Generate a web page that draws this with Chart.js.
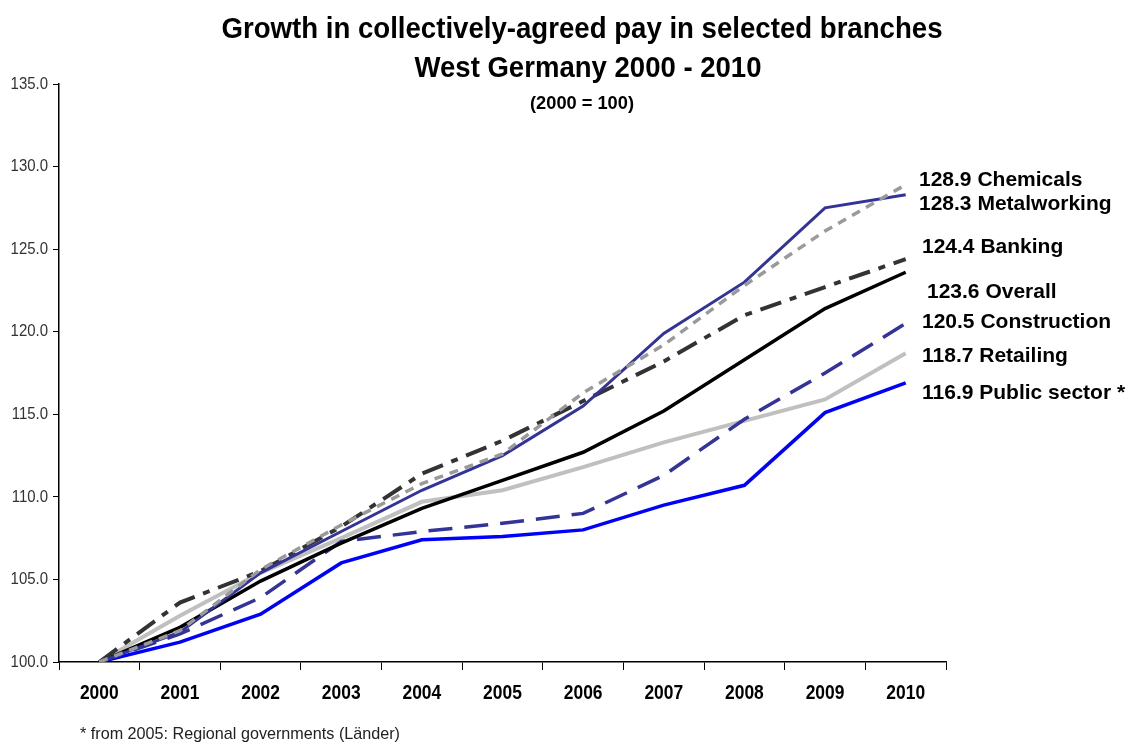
<!DOCTYPE html>
<html>
<head>
<meta charset="utf-8">
<script src="https://cdn.jsdelivr.net/npm/chart.js@4/dist/chart.umd.min.js"></script>
<style>
  html, body { margin:0; padding:0; background:#fff; }
  #wrap { width:1136px; height:744px; }
</style>
</head>
<body>
<div id="wrap"><canvas id="chart" width="1136" height="744"></canvas></div>
<script>
let years = ["2000","2001","2002","2003","2004","2005","2006","2007","2008","2009","2010"];
let yTicks = [100, 105, 110, 115, 120, 125, 130, 135];

let chemicals    = [100, 101.9, 105.6, 108.3, 110.8, 112.6, 116.3, 119.2, 122.8, 126.1, 128.9];
let metalworking = [100, 101.8, 105.4, 107.9, 110.4, 112.5, 115.5, 119.9, 123.0, 127.5, 128.3];
let banking      = [100, 103.6, 105.5, 108.2, 111.4, 113.4, 115.8, 118.2, 121.0, 122.7, 124.4];
let overall      = [100, 102.1, 104.9, 107.2, 109.3, 111.0, 112.7, 115.2, 118.3, 121.4, 123.6];
let construction = [100, 101.7, 103.9, 107.3, 107.9, 108.4, 109.0, 111.3, 114.7, 117.5, 120.5];
let retailing    = [100, 102.8, 105.4, 107.5, 109.7, 110.4, 111.8, 113.3, 114.6, 115.9, 118.7];
let publicSector = [100, 101.2, 102.9, 106.0, 107.4, 107.6, 108.0, 109.5, 110.7, 115.1, 116.9];

let seriesNames = ["Chemicals","Metalworking","Banking","Overall","Construction","Retailing","Public sector *"];
let seriesData  = [chemicals, metalworking, banking, overall, construction, retailing, publicSector];

let font = "'Liberation Sans', Arial, sans-serif";

// line styles (same order as seriesNames)
let styles = [
  {color:"#9a9a9a", width:3.5, dash:[9,7]},
  {color:"#333399", width:3,   dash:[]},
  {color:"#333333", width:4,   dash:[22,9,7,9]},
  {color:"#000000", width:3.5, dash:[]},
  {color:"#333399", width:3.5, dash:[24,12]},
  {color:"#c0c0c0", width:4,   dash:[]},
  {color:"#0000ff", width:3.5, dash:[]}
];

// text at the right of the lines: y in axis units, x offset from plot edge
let labelPos = [
  {v:129.2, dx:-27}, {v:127.7, dx:-27}, {v:125.1, dx:-24},
  {v:122.4, dx:-19}, {v:120.6, dx:-24}, {v:118.5, dx:-24}, {v:116.3, dx:-24}
];

// text squeezed sideways like the narrow font of the original
function squeezed(ctx, text, x, y, sx, align){
  ctx.save();
  ctx.translate(x, y);
  ctx.scale(sx, 1);
  ctx.textAlign = align;
  ctx.fillText(text, 0, 0);
  ctx.restore();
}

function fitText(ctx, text, x, y, w, f, align){
  ctx.save();
  ctx.font = f;
  let m = ctx.measureText(text).width;
  ctx.textBaseline = "alphabetic";
  squeezed(ctx, text, x, y, w/m, align||"center");
  ctx.restore();
}

let textPlugin = {
  id:"texts",
  afterDraw(chart){
    let ctx = chart.ctx;
    let area = chart.chartArea;
    let x = chart.scales.x, y = chart.scales.y;
    ctx.save();
    ctx.fillStyle = "#000";
    fitText(ctx, "Growth in collectively-agreed pay in selected branches", 582, 38, 721, "bold 29px " + font);
    fitText(ctx, "West Germany 2000 - 2010", 588, 77, 347, "bold 29px " + font);
    fitText(ctx, "(2000 = 100)", 582, 109, 104, "bold 19px " + font);

    // axis labels
    ctx.font = "bold 21px " + font;
    ctx.textBaseline = "middle";
    years.forEach((yr,i)=>squeezed(ctx, yr, x.getPixelForValue(i), 693, 0.83, "center"));
    ctx.fillStyle = "#333";
    ctx.font = "17px " + font;
    yTicks.forEach(v=>squeezed(ctx, v.toFixed(1), 48, y.getPixelForValue(v), 0.88, "right"));

    // series labels
    ctx.fillStyle = "#000";
    ctx.font = "bold 21px " + font;
    ctx.textAlign = "left";
    seriesNames.forEach((n,i)=>{
      let d = seriesData[i];
      let txt = d[d.length-1].toFixed(1) + " " + n;
      ctx.fillText(txt, area.right + labelPos[i].dx, y.getPixelForValue(labelPos[i].v));
    });

    ctx.fillStyle = "#222";
    fitText(ctx, "* from 2005: Regional governments (Länder)", 80, 739, 320, "17px " + font, "left");
    ctx.restore();
  }
};

let datasets = seriesNames.map((n,i)=>({
  label:n,
  data:seriesData[i],
  borderColor:styles[i].color,
  borderWidth:styles[i].width,
  borderDash:styles[i].dash,
  pointRadius:0,
  tension:0,
  fill:false
}));

new Chart(document.getElementById("chart"), {
  type:"line",
  data:{labels:years, datasets:datasets},
  plugins:[textPlugin],
  options:{
    responsive:false,
    animation:false,
    devicePixelRatio:1,
    layout:{padding:{top:84, right:190, left:0, bottom:0}},
    plugins:{legend:{display:false}, tooltip:{enabled:false}, title:{display:false}},
    scales:{
      x:{
        offset:true,
        grid:{offset:true, drawOnChartArea:false, drawTicks:true, tickLength:8, color:"#000", lineWidth:1},
        border:{display:true, color:"#000", width:1.5},
        ticks:{display:false},
        afterFit(s){ s.height = 82; }
      },
      y:{
        min:100, max:135,
        afterBuildTicks(s){ s.ticks = yTicks.map(v=>({value:v})); },
        grid:{drawOnChartArea:false, drawTicks:true, tickLength:6, color:"#000", lineWidth:1},
        border:{display:true, color:"#000", width:1.5},
        ticks:{display:false},
        afterFit(s){ s.width = 59; }
      }
    }
  }
});
</script>
</body>
</html>
